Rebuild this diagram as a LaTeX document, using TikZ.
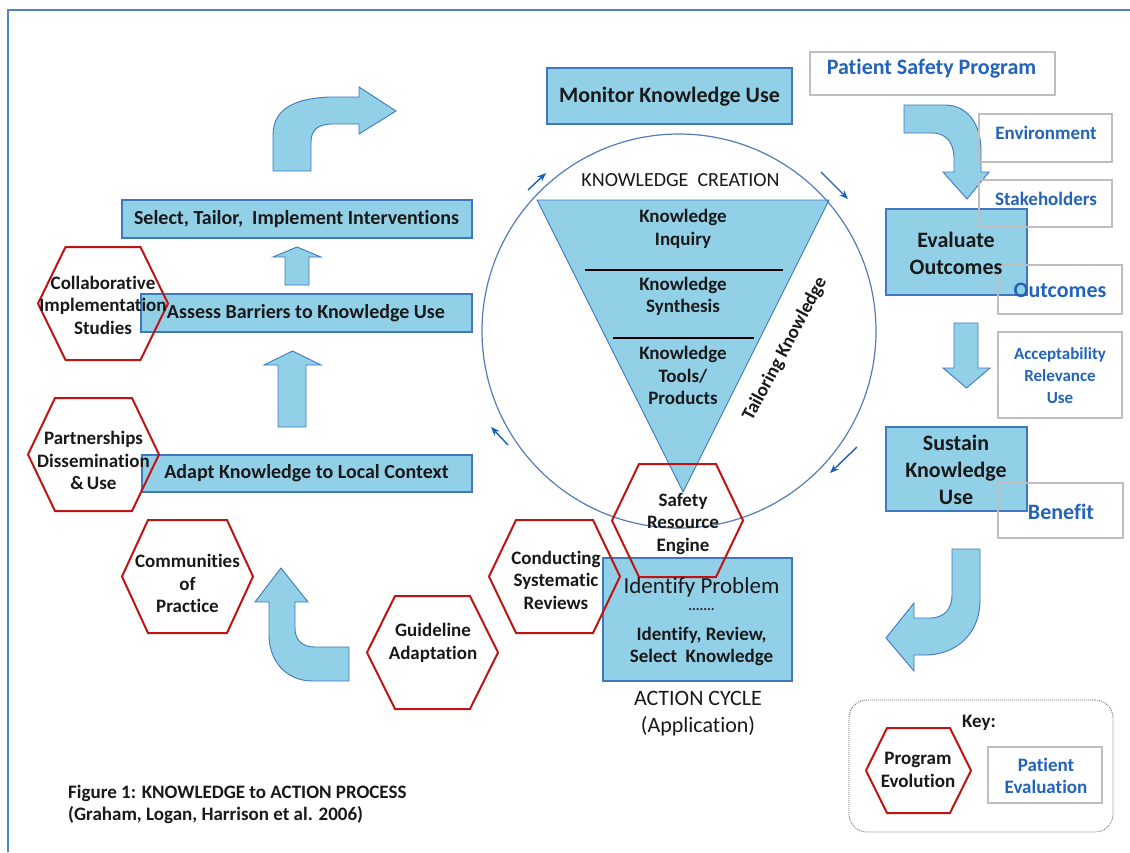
\documentclass[tikz,border=0pt]{standalone}
\usepackage{fontspec}
\setmainfont{Carlito}[Ligatures=NoCommon]
\usetikzlibrary{arrows.meta}
\definecolor{boxblue}{RGB}{146,208,232}
\definecolor{boxedge}{RGB}{62,120,190}
\definecolor{hexred}{RGB}{190,20,20}
\definecolor{txtblue}{RGB}{35,100,185}
\definecolor{grayedge}{RGB}{190,190,190}
\definecolor{circcol}{RGB}{85,125,180}
\definecolor{arrcol}{RGB}{30,95,175}
\definecolor{framecol}{RGB}{80,130,200}
\definecolor{ink}{RGB}{25,25,25}
\tikzset{
  bluebox/.style={draw=boxedge, fill=boxblue, line width=1.2pt, inner sep=0pt},
  graybox/.style={draw=grayedge, line width=1.6pt, inner sep=0pt},
  hexline/.style={draw=hexred, line width=2pt, line join=miter},
  blockarrow/.style={fill=boxblue, draw=boxedge, line width=0.9pt},
  cyc/.style={-{Stealth[length=9pt,width=7pt]}, draw=arrcol, line width=1.4pt},
  boxtext/.style={text=ink, font=\bfseries\fontsize{20}{23}\selectfont, align=center, inner sep=0pt},
  bigtext/.style={text=ink, font=\bfseries\fontsize{22}{27}\selectfont, align=center, inner sep=0pt},
  hextext/.style={text=ink, font=\bfseries\fontsize{19}{22.5}\selectfont, align=center, inner sep=0pt},
  bluetext/.style={text=txtblue, font=\bfseries\fontsize{19}{22}\selectfont, align=center, inner sep=0pt},
  bigblue/.style={text=txtblue, font=\bfseries\fontsize{22}{26}\selectfont, align=center, inner sep=0pt},
  plaintext/.style={text=ink, font=\fontsize{22}{27}\selectfont, align=center, inner sep=0pt},
}
\newcommand\hexbox[6]{%
  \draw[hexline] ({#2-#4},#3) -- ({#2-#4+#6},{#3-#5}) -- ({#2+#4-#6},{#3-#5}) -- ({#2+#4},#3) -- ({#2+#4-#6},{#3+#5}) -- ({#2-#4+#6},{#3+#5}) -- cycle;
  \coordinate (#1) at (#2,#3);}
\begin{document}
\begin{tikzpicture}[x=1pt,y=-1pt]
\useasboundingbox (0,0) rectangle (1130,852);
\fill[white] (0,0) rectangle (1130,852);
% frame
\draw[framecol, line width=1.5pt] (8,852) -- (8,10) -- (1130,10);

% blue boxes
\node[bluebox, minimum width=350pt, minimum height=38pt] (select) at (297,219) {};
\node[bluebox, minimum width=331pt, minimum height=38pt] (assess) at (306.5,313) {};
\node[bluebox, minimum width=330pt, minimum height=37pt] (adapt) at (307,473.5) {};
\node[bluebox, minimum width=245pt, minimum height=56pt] (monitor) at (669.5,96) {};
\node[bluebox, minimum width=189pt, minimum height=123pt] (ident) at (697.5,619.5) {};
\node[bluebox, minimum width=141pt, minimum height=86pt] (evalb) at (956.5,252) {};
\node[bluebox, minimum width=141pt, minimum height=84pt] (sustb) at (956.5,469) {};

% block arrows
\draw[blockarrow] (297,247) -- (321,257) -- (309,257) -- (309,285) -- (285,285) -- (285,257) -- (273,257) -- cycle;
\draw[blockarrow] (292.5,351) -- (321,365) -- (306,365) -- (306,427) -- (278,427) -- (278,365) -- (264,365) -- cycle;
\draw[blockarrow] (966.5,388) -- (990,368) -- (978,368) -- (978,323) -- (954,323) -- (954,368) -- (943,368) -- cycle;
\draw[blockarrow] (273,171) -- (273,135) .. controls (273,106) and (300,98) .. (330,97) -- (359,97) -- (359,87) -- (396,111) -- (359,134) -- (359,124) -- (333,124) .. controls (318,124) and (311,130) .. (311,142) -- (311,171) -- cycle;
\draw[blockarrow] (904,105) -- (945,105) .. controls (968,105) and (981,125) .. (981,150) -- (981,172) -- (989,172) -- (967,199) -- (943,172) -- (954,172) -- (954,158) .. controls (954,142) and (945,133) .. (933,133) -- (904,133) -- cycle;
\draw[blockarrow] (952,549) -- (980,549) -- (980,600) .. controls (980,635) and (955,655) .. (925,655) -- (914,655) -- (914,671) -- (886,638) -- (914,603) -- (914,618) -- (930,618) .. controls (945,618) and (952,608) .. (952,595) -- cycle;
\draw[blockarrow] (281,568) -- (308,602) -- (295,602) -- (295,628) .. controls (295,640) and (302,647) .. (315,647) -- (349,647) -- (349,681) -- (313,681) .. controls (285,681) and (269,660) .. (269,635) -- (269,602) -- (255,602) -- cycle;

% knowledge creation funnel and circle
\draw[blockarrow] (537,200) -- (829,200) -- (683,492) -- cycle;
\draw[black, line width=2pt] (585,270) -- (783,270);
\draw[black, line width=2pt] (613,338) -- (754,338);
\node[draw=circcol, line width=1.2pt, circle, minimum size=394pt, inner sep=0pt] (circ) at (679,331) {};

% cycle arrows
\coordinate (a1s) at (528,190); \coordinate (a1e) at (546,173);
\coordinate (a2s) at (821,172); \coordinate (a2e) at (848,199);
\coordinate (a3s) at (857,447); \coordinate (a3e) at (830,473);
\coordinate (a4s) at (508,445); \coordinate (a4e) at (491,427);
\draw[cyc] (a1s) -- (a1e);
\draw[cyc] (a2s) -- (a2e);
\draw[cyc] (a3s) -- (a3e);
\draw[cyc] (a4s) -- (a4e);

% hexagons
\hexbox{hcollab}{103}{303.5}{65}{56.5}{27.5}
\hexbox{hpartner}{93.5}{454.5}{65.5}{56.5}{27}
\hexbox{hcomm}{187.5}{576.5}{65.5}{56.5}{26}
\hexbox{hguide}{432.5}{652.5}{65.5}{56.5}{28}
\hexbox{hsafety}{677.5}{520.5}{65.5}{56.5}{27}
\hexbox{hconduct}{554.5}{576.5}{65.5}{56.5}{27}
\hexbox{hprog}{918.5}{770.5}{52.5}{42.5}{21}

% gray boxes
\node[graybox, minimum width=245pt, minimum height=43pt] (psp) at (932.5,73.5) {};
\node[graybox, minimum width=133pt, minimum height=48pt] (env) at (1045.5,138) {};
\node[graybox, minimum width=133pt, minimum height=47pt] (stake) at (1045.5,203.5) {};
\node[graybox, minimum width=124pt, minimum height=49pt] (outc) at (1060,289.5) {};
\node[graybox, minimum width=124pt, minimum height=86pt] (accept) at (1060,375) {};
\node[graybox, minimum width=125pt, minimum height=55pt] (bene) at (1060.5,510.5) {};
\node[graybox, minimum width=114pt, minimum height=56pt] (pateval) at (1045,775) {};
\node[draw=gray!80!black, line width=0.8pt, dash pattern=on 1pt off 1pt, rounded corners=18pt, minimum width=264pt, minimum height=132pt, inner sep=0pt] (key) at (981,766) {};

% texts
\node[boxtext] (tselect) at (296.5,219) {Select, Tailor,\ \ Implement Interventions};
\node[boxtext] (tassess) at (306,313) {Assess Barriers to Knowledge Use};
\node[boxtext] (tadapt) at (306.5,473.5) {Adapt Knowledge to Local Context};
\node[bigtext] (tmonitor) at (669.5,97) {Monitor Knowledge Use};
\node[bigtext] (teval) at (956,253) {Evaluate\\Outcomes};
\node[bigtext] (tsust) at (956,469.5) {Sustain\\Knowledge\\Use};

\node[text=ink, font=\fontsize{23}{27}\selectfont, inner sep=0pt] (tident) at (701.5,587) {Identify Problem};
\node[text=ink, font=\bfseries\fontsize{14}{16}\selectfont, inner sep=0pt] (tdots) at (701.5,610) {.......};
\node[boxtext, font=\bfseries\fontsize{19}{22}\selectfont] (tidsel) at (701.5,646) {Identify, Review,\\Select\ \ Knowledge};
\node[plaintext] (tcycle) at (698,713.5) {ACTION CYCLE\\(Application)};

\node[text=ink, font=\fontsize{20}{23}\selectfont, inner sep=0pt] (tkc) at (680.5,180) {KNOWLEDGE\ \ CREATION};
\node[hextext] (tinq) at (683,229) {Knowledge\\Inquiry};
\node[hextext] (tsyn) at (683,296.5) {Knowledge\\Synthesis};
\node[hextext] (ttools) at (683,375.5) {Knowledge\\Tools/\\Products};
\node[hextext, rotate=62] (ttail) at (785,349) {Tailoring Knowledge};

\node[hextext] (tcollab) at (103,305) {Collaborative\\Implementation\\Studies};
\node[hextext] (tpartner) at (93.5,460.5) {Partnerships\\Dissemination\\\&\,Use};
\node[hextext] (tcomm) at (187.5,583.5) {Communities\\of\\Practice};
\node[hextext] (tguide) at (433,643) {Guideline\\Adaptation};
\node[hextext] (tsafety) at (683,523.5) {Safety\\Resource\\Engine};
\node[hextext] (tconduct) at (556,580) {Conducting\\Systematic\\Reviews};
\node[hextext] (tprog) at (918,770) {Program\\Evolution};
\node[hextext] (tkey) at (979,723) {Key:};

\node[bigblue] (tpsp) at (931.5,69) {Patient Safety Program};
\node[bluetext] (tenv) at (1046,133) {Environment};
\node[bluetext] (tstake) at (1046,199) {Stakeholders};
\node[bigblue] (toutc) at (1060,290) {Outcomes};
\node[bluetext, font=\bfseries\fontsize{17}{22}\selectfont] (taccept) at (1060,376) {Acceptability\\Relevance\\Use};
\node[bigblue] (tbene) at (1061,512) {Benefit};
\node[bluetext, font=\bfseries\fontsize{19}{22}\selectfont] (tpateval) at (1046,776) {Patient\\Evaluation};

\node[text=ink, font=\bfseries\fontsize{19}{22}\selectfont, align=left, anchor=west, inner sep=0pt] (tcaption) at (68,804) {Figure 1: KNOWLEDGE to ACTION PROCESS\\(Graham, Logan, Harrison et al. 2006)};
\end{tikzpicture}
\end{document}
